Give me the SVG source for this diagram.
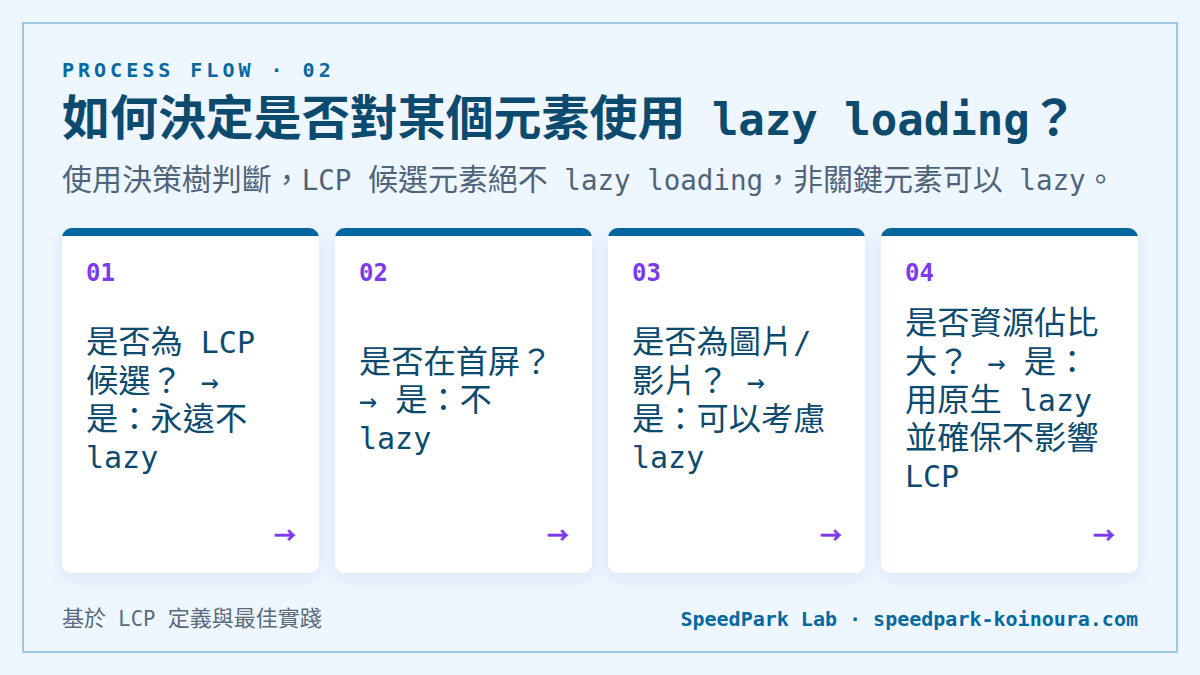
<svg xmlns="http://www.w3.org/2000/svg" width="1200" height="675" viewBox="0 0 1200 675">
  <defs>
    <style>
      .mono { font-family: "DejaVu Sans Mono", "Noto Sans CJK TC", monospace; }
      .eyebrow { font-size: 20px; font-weight: 700; letter-spacing: 4px; fill: #0369a1; }
      .title { font-size: 44px; font-weight: 700; fill: #0c4a6e; }
      .sub { font-size: 27.5px; fill: #4f6479; }
      .k { font-family: "Noto Sans CJK TC", sans-serif; font-size: 1.075em; }
      .title .k { font-size: 1.09em; }
      .sub .k { font-size: 1.09em; }
      .num { font-size: 24px; font-weight: 700; fill: #7c3aed; }
      .body { font-size: 30px; fill: #0c4a6e; }
      .go { font-family: "Noto Sans CJK TC", sans-serif; font-size: 22px; font-weight: 700; fill: #7c3aed; stroke: #7c3aed; stroke-width: 0.4; text-anchor: end; }
      .foot { font-size: 20.5px; fill: #5a6b7c; }
      .brand { font-size: 20px; font-weight: 700; fill: #0369a1; text-anchor: end; }
      .card { fill: #ffffff; }
      .bar { fill: #03679f; }
    </style>
    <filter id="shadow" x="-20%" y="-20%" width="140%" height="140%">
      <feDropShadow dx="0" dy="6" stdDeviation="8" flood-color="#1e3a8a" flood-opacity="0.08"/>
    </filter>
  </defs>

  <rect x="0" y="0" width="1200" height="675" fill="#eef6ff"/>
  <rect x="23" y="23" width="1154" height="629" fill="#eef6ff" stroke="#9fcae2" stroke-width="2"/>

  <g id="header">
    <text class="mono eyebrow" x="62" y="77">PROCESS FLOW · 02</text>
    <text class="mono title" x="62" y="135"><tspan class="k">如何決定是否對某個元素使用</tspan> lazy loading<tspan class="k">？</tspan></text>
    <text class="mono sub" x="62" y="190"><tspan class="k">使用決策樹判斷，</tspan>LCP <tspan class="k">候選元素絕不</tspan> lazy loading<tspan class="k">，非關鍵元素可以</tspan> lazy<tspan class="k">。</tspan></text>
  </g>

  <g id="connectors"></g>

  <g id="step-01" transform="translate(62,228)">
    <rect class="card" x="0" y="0" width="257" height="345" rx="10" filter="url(#shadow)"/>
    <path class="bar" d="M0.2,8 A10,10 0 0 1 10,0 H247 A10,10 0 0 1 256.8,8 Z"/>
    <text class="mono num" x="24" y="52.5">01</text>
    <text class="mono body" x="24" y="125.3"><tspan class="k">是否為</tspan> LCP</text>
    <text class="mono body" x="24" y="163.6"><tspan class="k">候選？</tspan> →</text>
    <text class="mono body" x="24" y="201.9"><tspan class="k">是：永遠不</tspan></text>
    <text class="mono body" x="24" y="240.2">lazy</text>
    <text class="go" x="234" y="315">→</text>
  </g>

  <g id="step-02" transform="translate(335,228)">
    <rect class="card" x="0" y="0" width="257" height="345" rx="10" filter="url(#shadow)"/>
    <path class="bar" d="M0.2,8 A10,10 0 0 1 10,0 H247 A10,10 0 0 1 256.8,8 Z"/>
    <text class="mono num" x="24" y="52.5">02</text>
    <text class="mono body" x="24" y="144.5"><tspan class="k">是否在首屏？</tspan></text>
    <text class="mono body" x="24" y="182.8">→ <tspan class="k">是：不</tspan></text>
    <text class="mono body" x="24" y="221.1">lazy</text>
    <text class="go" x="234" y="315">→</text>
  </g>

  <g id="step-03" transform="translate(608,228)">
    <rect class="card" x="0" y="0" width="257" height="345" rx="10" filter="url(#shadow)"/>
    <path class="bar" d="M0.2,8 A10,10 0 0 1 10,0 H247 A10,10 0 0 1 256.8,8 Z"/>
    <text class="mono num" x="24" y="52.5">03</text>
    <text class="mono body" x="24" y="125.3"><tspan class="k">是否為圖片</tspan>/</text>
    <text class="mono body" x="24" y="163.6"><tspan class="k">影片？</tspan> →</text>
    <text class="mono body" x="24" y="201.9"><tspan class="k">是：可以考慮</tspan></text>
    <text class="mono body" x="24" y="240.2">lazy</text>
    <text class="go" x="234" y="315">→</text>
  </g>

  <g id="step-04" transform="translate(881,228)">
    <rect class="card" x="0" y="0" width="257" height="345" rx="10" filter="url(#shadow)"/>
    <path class="bar" d="M0.2,8 A10,10 0 0 1 10,0 H247 A10,10 0 0 1 256.8,8 Z"/>
    <text class="mono num" x="24" y="52.5">04</text>
    <text class="mono body" x="24" y="106.2"><tspan class="k">是否資源佔比</tspan></text>
    <text class="mono body" x="24" y="144.5"><tspan class="k">大？</tspan> → <tspan class="k">是：</tspan></text>
    <text class="mono body" x="24" y="182.8"><tspan class="k">用原生</tspan> lazy</text>
    <text class="mono body" x="24" y="221.1"><tspan class="k">並確保不影響</tspan></text>
    <text class="mono body" x="24" y="259.4">LCP</text>
    <text class="go" x="234" y="315">→</text>
  </g>

  <g id="footer">
    <text class="mono foot" x="62" y="626"><tspan class="k">基於</tspan> LCP <tspan class="k">定義與最佳實踐</tspan></text>
    <text class="mono brand" x="1138" y="626">SpeedPark Lab · speedpark-koinoura.com</text>
  </g>
</svg>
